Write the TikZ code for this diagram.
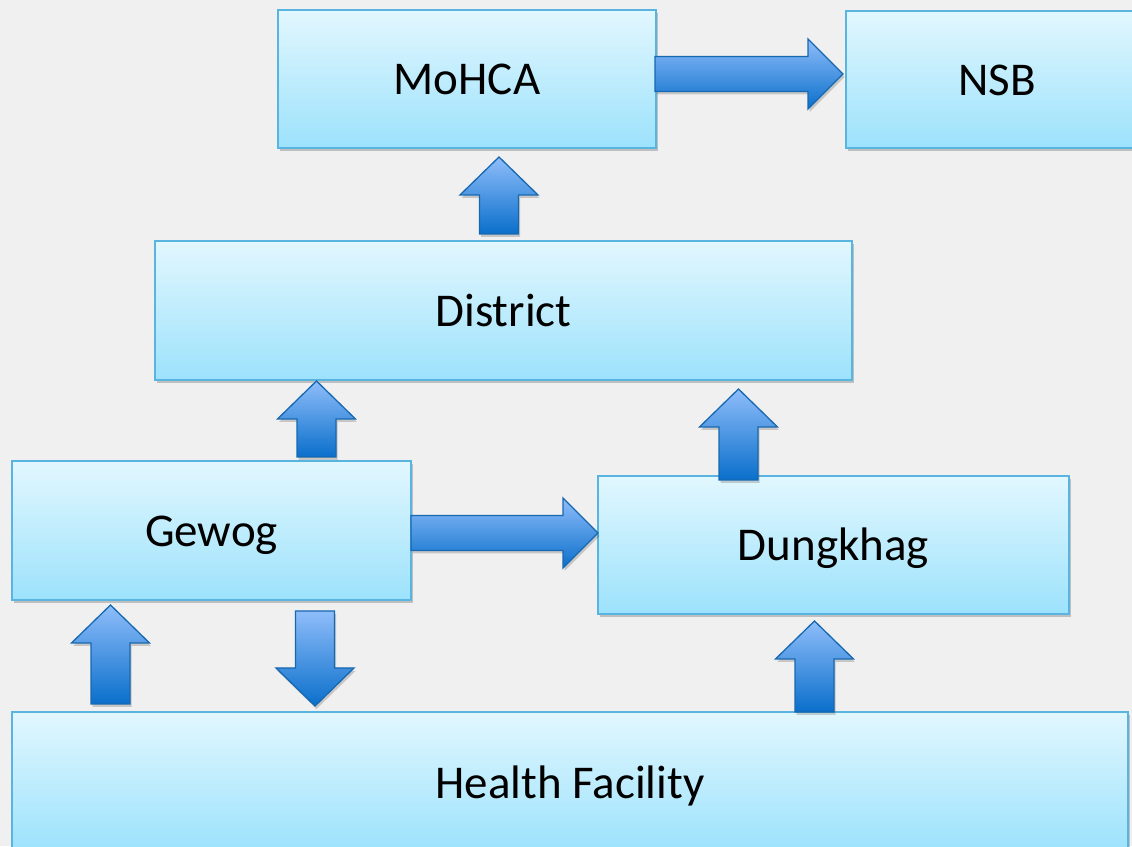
\documentclass[tikz,border=0pt]{standalone}
\usepackage{fontspec}
\setmainfont{Carlito}
\usetikzlibrary{calc,shadows}
\definecolor{bgc}{HTML}{F0F0F0}
\definecolor{boxtop}{HTML}{E2F7FE}
\definecolor{boxbot}{HTML}{9CE2FC}
\definecolor{boxline}{HTML}{5AB4E0}
\definecolor{arrtop}{HTML}{8FBDFA}
\definecolor{arrbot}{HTML}{0A6FCB}
\definecolor{arrline}{HTML}{1668B0}
\tikzset{
  box/.style={draw=boxline, line width=1.5pt, top color=boxtop, bottom color=boxbot,
    inner sep=0pt, font=\fontsize{47}{56}\selectfont, text height=32pt, text depth=0pt,
    drop shadow={shadow xshift=1.5pt, shadow yshift=-3pt, opacity=0.35, fill=black!60}},
  blockarrow/.style={draw=arrline, line width=1.3pt, line join=miter, top color=arrtop, bottom color=arrbot,
    drop shadow={shadow xshift=1.5pt, shadow yshift=-3pt, opacity=0.3, fill=black!60}},
}
% #1 tail, #2 tip, #3 shaft half width, #4 head half width, #5 head length
\newcommand{\blockarr}[5]{%
  \coordinate (hb) at ($(#2)!#5!(#1)$);
  \path[blockarrow] ($(#1)!#3!90:(#2)$) -- ($(hb)!#3!90:(#2)$) -- ($(hb)!#4!90:(#2)$)
    -- (#2) -- ($(hb)!#4!-90:(#2)$) -- ($(hb)!#3!-90:(#2)$) -- ($(#1)!#3!-90:(#2)$) -- cycle;}
\begin{document}
\begin{tikzpicture}[x=1pt,y=1pt]
\useasboundingbox (0,0) rectangle (1132,846);
\fill[bgc] (0,0) rectangle (1132,846);
% boxes
\node[box, minimum width=378pt, minimum height=138pt] (mohca) at (467,767) {MoHCA};
\node[box, minimum width=302pt, minimum height=137pt] (nsb) at (997,766.5) {NSB};
\node[box, minimum width=697pt, minimum height=139pt] (district) at (503.5,535.5) {District};
\node[box, minimum width=399pt, minimum height=139pt] (gewog) at (211.5,315.5) {Gewog};
\node[box, minimum width=471pt, minimum height=138pt] (dungkhag) at (833.5,301) {Dungkhag};
\node[box, minimum width=1116pt, minimum height=140pt] (hf) at (570,64) {Health Facility};
% arrow end points
\coordinate (a1t) at (655,772);   \coordinate (a1h) at (843,772);
\coordinate (a2t) at (499,612);   \coordinate (a2h) at (499,689);
\coordinate (a3t) at (316.5,389); \coordinate (a3h) at (316.5,465);
\coordinate (a4t) at (738.5,366); \coordinate (a4h) at (738.5,457);
\coordinate (a5t) at (411,313);   \coordinate (a5h) at (598,313);
\coordinate (a6t) at (110.5,142); \coordinate (a6h) at (110.5,241);
\coordinate (a7t) at (315,235);   \coordinate (a7h) at (315,140);
\coordinate (a8t) at (814.5,134); \coordinate (a8h) at (814.5,225);
% block arrows
\blockarr{a1t}{a1h}{17.5pt}{35pt}{35pt}
\blockarr{a2t}{a2h}{19.5pt}{39pt}{38pt}
\blockarr{a3t}{a3h}{19.5pt}{39pt}{38pt}
\blockarr{a4t}{a4h}{19.5pt}{39pt}{38pt}
\blockarr{a5t}{a5h}{17.5pt}{35pt}{35pt}
\blockarr{a6t}{a6h}{19.5pt}{39pt}{38pt}
\blockarr{a7t}{a7h}{19.5pt}{39pt}{38pt}
\blockarr{a8t}{a8h}{19.5pt}{39pt}{38pt}
\end{tikzpicture}
\end{document}
